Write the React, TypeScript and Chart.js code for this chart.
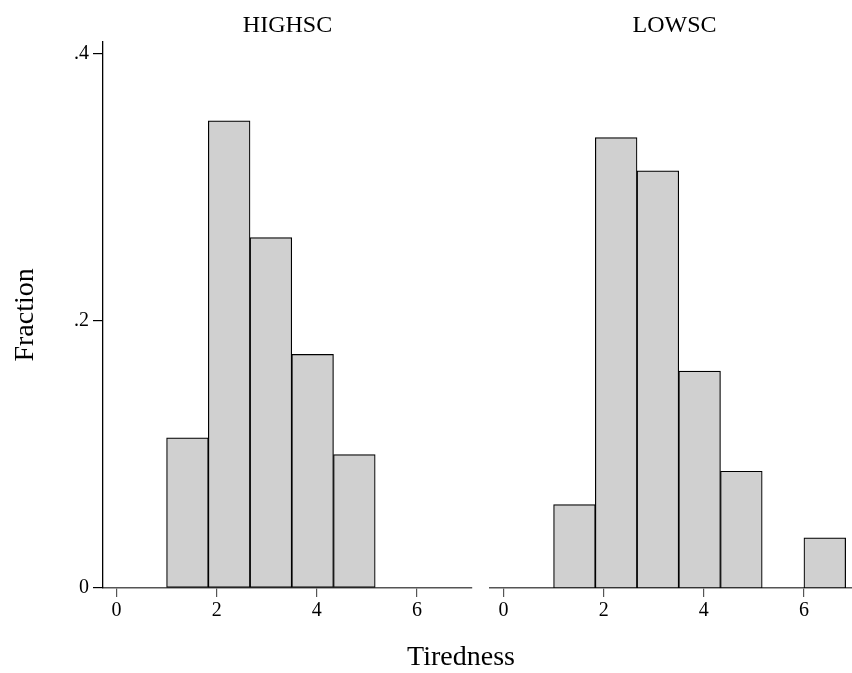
import React, { useEffect, useRef } from "react";
import { Chart, registerables } from "chart.js";
Chart.register(...registerables);

const panelTitles = ["HIGHSC", "LOWSC"];
const binStarts = [1, 1.8333, 2.6667, 3.5, 4.3333, 5.1667, 6];
const binWidth = 0.8333;
const highscFractions: (number | null)[] = [0.1125, 0.35, 0.2625, 0.175, 0.1, null, null];
const lowscFractions: (number | null)[] = [0.0625, 0.3375, 0.3125, 0.1625, 0.0875, null, 0.0375];
const xTickValues = [0, 2, 4, 6];
const yTickValues = [0, 0.2, 0.4];
const yTickLabels = ["0", ".2", ".4"];
const xAxisTitle = "Tiredness";
const yAxisTitle = "Fraction";

const FONT = "'Liberation Serif', 'Times New Roman', serif";

type PanelProps = {
  left: number;
  width: number;
  title: string;
  fractions: (number | null)[];
  showY: boolean;
};

function Panel({ left, width, title, fractions, showY }: PanelProps) {
  const ref = useRef<HTMLCanvasElement>(null);
  useEffect(() => {
    const points = binStarts
      .map((b, i) => ({ x: b + binWidth / 2, y: fractions[i] }))
      .filter((p) => p.y !== null);
    const chart = new Chart(ref.current!, {
      type: "bar",
      data: {
        datasets: [
          {
            data: points as any,
            backgroundColor: "#d0d0d0",
            borderColor: "#000",
            borderWidth: 1.2,
            borderSkipped: false,
            categoryPercentage: 1,
            barPercentage: 1,
          },
        ],
      },
      options: {
        responsive: false,
        animation: false,
        layout: {
          padding: { left: showY ? 0 : 10, right: showY ? 8 : 0, top: 0, bottom: 0 },
        },
        plugins: {
          legend: { display: false },
          tooltip: { enabled: false },
          title: {
            display: true,
            text: title,
            fullSize: false,
            color: "#000",
            font: { family: FONT, size: 24, weight: "normal" as any },
            padding: { top: 11, bottom: 2 },
          },
        },
        scales: {
          x: {
            type: "linear",
            min: -0.27,
            max: 7.1,
            offset: false,
            grid: {
              offset: false,
              drawOnChartArea: false,
              drawTicks: true,
              tickLength: 9,
              color: "#555",
              lineWidth: 1.2,
            },
            border: { display: true, color: "#555", width: 1.5 },
            ticks: {
              color: "#000",
              font: { family: FONT, size: 20 },
              padding: 2,
              maxRotation: 0,
              autoSkip: false,
              callback: (v: any) => String(v),
            },
            afterBuildTicks: (s: any) => {
              s.ticks = xTickValues.map((v) => ({ value: v }));
            },
            afterFit: (s: any) => {
              s.height = 85;
            },
          },
          y: {
            display: showY,
            min: 0,
            max: 0.4092,
            grid: {
              drawOnChartArea: false,
              drawTicks: true,
              tickLength: 10,
              color: "#000",
              lineWidth: 1.2,
            },
            border: { display: true, color: "#000", width: 1.3 },
            ticks: {
              color: "#000",
              font: { family: FONT, size: 20 },
              padding: 4,
              autoSkip: false,
              callback: (v: any) => {
                const i = yTickValues.findIndex((t) => Math.abs(t - v) < 1e-9);
                return i >= 0 ? yTickLabels[i] : "";
              },
            },
            title: {
              display: true,
              text: yAxisTitle,
              color: "#000",
              font: { family: FONT, size: 28 },
              padding: { top: 9, bottom: 0 },
            },
            afterBuildTicks: (s: any) => {
              s.ticks = yTickValues.map((v) => ({ value: v }));
            },
            afterFit: (s: any) => {
              s.width = showY ? 103 : 0;
            },
          },
        },
      } as any,
    });
    return () => chart.destroy();
  }, []);
  return (
    <canvas
      ref={ref}
      width={width}
      height={673}
      style={{ position: "absolute", left, top: 0, width, height: 673 }}
    />
  );
}

export default function App() {
  return (
    <div
      style={{
        position: "absolute",
        left: 0,
        top: 0,
        width: 852,
        height: 673,
        overflow: "hidden",
        background: "#fff",
      }}
    >
      <Panel left={0} width={480} title={panelTitles[0]} fractions={highscFractions} showY={true} />
      <Panel left={480} width={379} title={panelTitles[1]} fractions={lowscFractions} showY={false} />
      <div
        style={{
          position: "absolute",
          left: 461,
          top: 656,
          transform: "translate(-50%, -50%)",
          fontFamily: FONT,
          fontSize: 28,
          lineHeight: 1,
          whiteSpace: "nowrap",
          color: "#000",
        }}
      >
        {xAxisTitle}
      </div>
    </div>
  );
}
